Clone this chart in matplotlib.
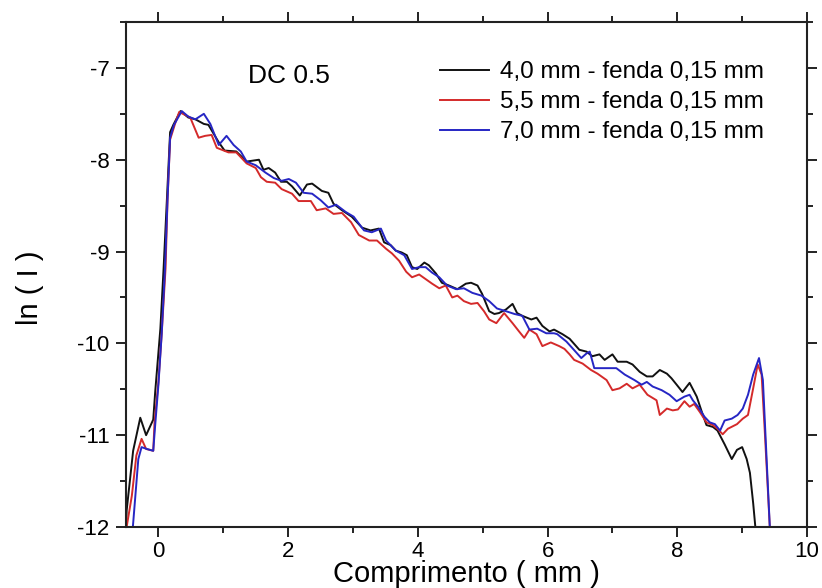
import matplotlib
matplotlib.use("Agg")
import matplotlib.pyplot as plt
from matplotlib.ticker import MultipleLocator

plt.rcParams['font.family'] = ['Liberation Sans', 'DejaVu Sans']
plt.rcParams['axes.unicode_minus'] = False

# Slit position 4,0 mm
x_40 = [-0.50, -0.49, -0.39, -0.28, -0.19, -0.08, -0.05, 0.03, 0.08, 0.13, 0.18, 0.23,
        0.34, 0.46, 0.57, 0.70, 0.77, 0.93, 1.02, 1.20, 1.36, 1.55, 1.62, 1.70, 1.80,
        1.89, 1.98, 2.06, 2.18, 2.29, 2.37, 2.52, 2.62, 2.70, 2.83, 2.98, 3.14, 3.27,
        3.40, 3.48, 3.58, 3.66, 3.75, 3.83, 3.91, 3.99, 4.10, 4.17, 4.28, 4.37, 4.48,
        4.61, 4.74, 4.82, 4.92, 4.99, 5.10, 5.18, 5.25, 5.36, 5.46, 5.53, 5.61, 5.75,
        5.83, 5.92, 6.03, 6.10, 6.23, 6.34, 6.49, 6.60, 6.69, 6.80, 6.88, 7.00, 7.08,
        7.22, 7.31, 7.42, 7.53, 7.62, 7.73, 7.84, 7.91, 7.99, 8.08, 8.19, 8.30, 8.38,
        8.45, 8.55, 8.62, 8.73, 8.84, 8.92, 9.00, 9.07, 9.12, 9.17, 9.21]
y_40 = [-12.05, -11.82, -11.17, -10.81, -11.00, -10.83, -10.53, -9.84, -9.18, -8.44, -7.70, -7.62,
        -7.47, -7.54, -7.56, -7.61, -7.62, -7.81, -7.90, -7.91, -8.02, -8.00, -8.11, -8.09, -8.14,
        -8.24, -8.24, -8.29, -8.39, -8.27, -8.26, -8.34, -8.36, -8.48, -8.55, -8.62, -8.74, -8.77,
        -8.75, -8.90, -8.93, -8.99, -9.01, -9.04, -9.17, -9.19, -9.12, -9.15, -9.24, -9.34, -9.37,
        -9.41, -9.35, -9.34, -9.37, -9.46, -9.65, -9.68, -9.67, -9.63, -9.57, -9.67, -9.70, -9.74,
        -9.72, -9.81, -9.87, -9.85, -9.90, -9.95, -10.07, -10.09, -10.14, -10.12, -10.18, -10.12, -10.20,
        -10.20, -10.23, -10.31, -10.36, -10.36, -10.29, -10.33, -10.38, -10.45, -10.53, -10.43, -10.58, -10.75,
        -10.89, -10.91, -10.95, -11.10, -11.26, -11.16, -11.13, -11.26, -11.41, -11.74, -12.05]

# Slit position 5,5 mm
x_55 = [-0.50, -0.49, -0.41, -0.34, -0.26, -0.19, -0.08, -0.06, 0.00, 0.05, 0.11, 0.14,
        0.18, 0.26, 0.32, 0.49, 0.62, 0.72, 0.82, 0.90, 1.08, 1.20, 1.36, 1.50, 1.58,
        1.67, 1.80, 1.90, 2.06, 2.16, 2.35, 2.44, 2.58, 2.70, 2.83, 2.97, 3.09, 3.25,
        3.37, 3.51, 3.60, 3.71, 3.82, 3.91, 4.02, 4.12, 4.22, 4.33, 4.43, 4.53, 4.61,
        4.71, 4.82, 4.92, 5.02, 5.10, 5.21, 5.33, 5.46, 5.56, 5.64, 5.72, 5.83, 5.92,
        6.05, 6.18, 6.26, 6.34, 6.41, 6.54, 6.67, 6.77, 6.91, 7.00, 7.11, 7.22, 7.31,
        7.42, 7.54, 7.68, 7.73, 7.84, 7.93, 8.01, 8.11, 8.19, 8.26, 8.35, 8.45, 8.55,
        8.62, 8.70, 8.78, 8.92, 9.01, 9.09, 9.17, 9.24, 9.30, 9.35, 9.43]
y_55 = [-12.05, -12.00, -11.66, -11.22, -11.04, -11.15, -11.17, -10.86, -10.42, -9.90, -9.18, -8.44,
        -7.78, -7.60, -7.48, -7.54, -7.76, -7.74, -7.73, -7.87, -7.92, -7.92, -8.04, -8.09, -8.19,
        -8.24, -8.25, -8.32, -8.37, -8.45, -8.45, -8.55, -8.53, -8.59, -8.58, -8.68, -8.82, -8.88,
        -8.88, -8.97, -9.02, -9.10, -9.22, -9.28, -9.25, -9.30, -9.35, -9.40, -9.37, -9.50, -9.48,
        -9.54, -9.57, -9.56, -9.65, -9.74, -9.78, -9.67, -9.78, -9.87, -9.94, -9.85, -9.90, -10.03,
        -9.99, -10.03, -10.06, -10.12, -10.18, -10.22, -10.29, -10.33, -10.40, -10.51, -10.49, -10.44, -10.49,
        -10.45, -10.56, -10.62, -10.78, -10.71, -10.73, -10.72, -10.63, -10.69, -10.66, -10.75, -10.86, -10.89,
        -10.93, -10.99, -10.93, -10.88, -10.82, -10.78, -10.49, -10.23, -10.34, -10.97, -12.05]

# Slit position 7,0 mm
x_70 = [-0.40, -0.31, -0.26, -0.18, -0.08, -0.05, 0.00, 0.05, 0.10, 0.14, 0.18, 0.24,
        0.36, 0.46, 0.57, 0.70, 0.80, 0.93, 1.05, 1.16, 1.27, 1.36, 1.50, 1.65, 1.78,
        1.90, 2.01, 2.12, 2.24, 2.37, 2.50, 2.62, 2.74, 2.89, 3.01, 3.17, 3.29, 3.43,
        3.51, 3.66, 3.79, 3.91, 4.02, 4.12, 4.22, 4.33, 4.45, 4.59, 4.71, 4.84, 4.98,
        5.10, 5.22, 5.36, 5.49, 5.61, 5.72, 5.84, 5.98, 6.10, 6.15, 6.29, 6.38, 6.52,
        6.60, 6.65, 6.72, 6.88, 7.06, 7.19, 7.34, 7.45, 7.53, 7.62, 7.76, 7.88, 7.99,
        8.11, 8.19, 8.24, 8.32, 8.42, 8.50, 8.58, 8.66, 8.73, 8.84, 8.93, 9.01, 9.09,
        9.17, 9.26, 9.32, 9.37, 9.43]
y_70 = [-12.05, -11.26, -11.13, -11.15, -11.17, -10.89, -10.45, -9.90, -9.20, -8.44, -7.76, -7.62,
        -7.47, -7.53, -7.56, -7.50, -7.61, -7.84, -7.74, -7.84, -7.91, -8.02, -8.06, -8.14, -8.20,
        -8.23, -8.21, -8.25, -8.36, -8.37, -8.44, -8.52, -8.49, -8.57, -8.62, -8.77, -8.79, -8.75,
        -8.88, -8.99, -9.04, -9.19, -9.17, -9.17, -9.23, -9.28, -9.37, -9.41, -9.40, -9.45, -9.48,
        -9.54, -9.62, -9.65, -9.68, -9.70, -9.85, -9.84, -9.89, -9.89, -9.90, -9.98, -10.05, -10.16,
        -10.11, -10.09, -10.27, -10.27, -10.27, -10.34, -10.40, -10.45, -10.42, -10.47, -10.51, -10.56, -10.63,
        -10.58, -10.56, -10.62, -10.69, -10.80, -10.86, -10.88, -10.95, -10.84, -10.82, -10.78, -10.71, -10.56,
        -10.34, -10.16, -10.40, -11.15, -12.05]

labels = ["4,0 mm - fenda 0,15 mm", "5,5 mm - fenda 0,15 mm", "7,0 mm - fenda 0,15 mm"]
colors = ["#111111", "#d42a2a", "#2626c4"]

fig = plt.figure(figsize=(8.22, 5.88), dpi=100)
ax = fig.add_axes([126 / 822, 1 - 527 / 588, 681 / 822, 505 / 588])

for xs, ys, lab, col in zip([x_40, x_55, x_70], [y_40, y_55, y_70], labels, colors):
    ax.plot(xs, ys, color=col, lw=1.4, label=lab)

ax.set_xlim(-0.5, 10)
ax.set_ylim(-12, -6.5)
ax.xaxis.set_major_locator(MultipleLocator(2))
ax.xaxis.set_minor_locator(MultipleLocator(1))
ax.yaxis.set_major_locator(MultipleLocator(1))
ax.yaxis.set_minor_locator(MultipleLocator(0.5))

for s in ax.spines.values():
    s.set_linewidth(1.5)
    s.set_color("#222222")

ax.tick_params(which="both", direction="out", top=True, right=True,
               labeltop=False, labelright=False, width=1.4, color="#222222")
ax.tick_params(which="major", length=7)
ax.tick_params(which="minor", length=4.5)
ax.tick_params(axis="x", which="major", labelsize=16, pad=3)
ax.tick_params(axis="y", which="major", labelsize=16, pad=5)

# Axis titles placed in figure coordinates
fig.text(0.5 * (126 + 807) / 822, 1 - 574 / 588, "Comprimento ( mm )", fontsize=21,
         ha="center", va="center")
fig.text(30 / 822, 1 - 288 / 588, "ln ( I )", fontsize=21, rotation=90,
         ha="center", va="center")

ax.text(0.239, 0.893, "DC 0.5", transform=ax.transAxes, fontsize=19,
        ha="center", va="center")

ax.legend(loc="upper left", bbox_to_anchor=(440 / 822, 1 - 61 / 588),
          bbox_transform=fig.transFigure, frameon=False, fontsize=17.5,
          handlelength=2.0, handletextpad=0.45, labelspacing=0.33,
          borderpad=0, borderaxespad=0)

fig.savefig("out.png", dpi=100)
